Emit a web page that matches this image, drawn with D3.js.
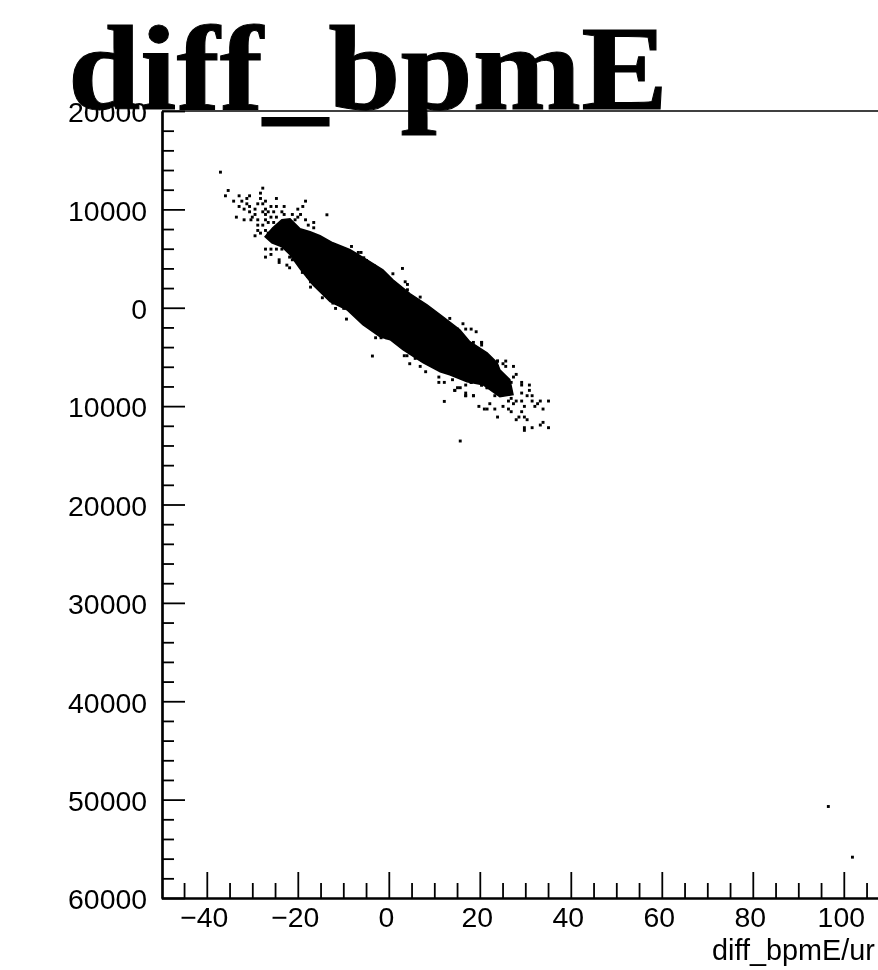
<!DOCTYPE html>
<html>
<head>
<meta charset="utf-8">
<script src="https://cdnjs.cloudflare.com/ajax/libs/d3/7.8.5/d3.min.js"></script>
<style>
html,body{margin:0;padding:0;background:#fff;overflow:hidden}
svg{display:block;filter:blur(0.5px)}
text{fill:#000}
</style>
</head>
<body>
<script>
const chartTitle = "diff_bpmE";
const xAxisTitle = "diff_bpmE/ur";
const xTickValues = [-40,-20,0,20,40,60,80,100];
const xTickLabels = ["\u221240","\u221220","0","20","40","60","80","100"];
const xMinorValues = [-45,-35,-30,-25,-15,-10,-5,5,10,15,25,30,35,45,50,55,65,70,75,85,90,95,105];
const yTickValues = [20000,10000,0,-10000,-20000,-30000,-40000,-50000,-60000];
const yTickLabels = ["20000","10000","0","10000","20000","30000","40000","50000","60000"];
const yMinorValues = [18000,16000,14000,12000,8000,6000,4000,2000,-2000,-4000,-6000,-8000,-12000,-14000,-16000,-18000,-22000,-24000,-26000,-28000,-32000,-34000,-36000,-38000,-42000,-44000,-46000,-48000,-52000,-54000,-56000,-58000];

// outline of the solid, saturated core of the scatter
const coreX = [-27.2,-25.5,-23.5,-21.7,-19.5,-17.3,-15.1,-12.3,-8.5,-4.8,-1.3,0.9,4.7,8.4,11.9,15.6,17.8,21.6,23.8,24.4,26.6,27.3,24.4,20.7,17.2,13.4,11.3,7.5,3.1,0.3,-1.9,-5.7,-9.2,-12.9,-16.7,-19.5,-21.7,-23.5,-25.7];
const coreY = [7214,8128,8941,9042,8026,7722,7315,6604,5893,4877,3861,2845,1422,305,-914,-2235,-3454,-4572,-5588,-6299,-7315,-8839,-9042,-7823,-7518,-6807,-6502,-5588,-4267,-3251,-2946,-1727,-203,610,2337,3962,5385,6198,6604];

// individually visible events outside the core
const pointsUpper = [[-37.0,13784],[-35.3,11921],[-35.9,11379],[-27.7,12158],[-28.2,11650],[-28.2,11108],[-32.9,11379],[-30.6,11379],[-31.2,11108],[-34.1,10837],[-32.3,10837],[-31.2,10566],[-32.9,10295],[-30.6,10295],[-31.8,10024],[-29.4,10024],[-28.8,10566],[-27.7,10566],[-27.1,10837],[-24.7,11108],[-24.7,10295],[-23.0,10295],[-18.3,10837],[-18.9,10295],[-20.0,10024],[-30.6,9753],[-29.4,9482],[-33.5,9211],[-31.8,8940],[-30.3,8940],[-30.0,9211],[-28.8,8940],[-27.7,9753],[-27.1,9482],[-26.5,9753],[-25.9,10295],[-27.1,10024],[-25.3,9753],[-24.7,9211],[-23.5,9753],[-23.0,9482],[-21.2,9482],[-20.0,9211],[-19.4,9482],[-20.6,8940],[-28.8,8398],[-27.7,8398],[-28.8,7857],[-28.2,7586],[-29.4,7315],[-27.1,7857],[-26.5,7586],[-27.1,8940],[-26.5,8669],[-25.9,9211],[-25.3,8669],[-18.3,8940],[-16.5,8669],[-17.7,8398],[-16.5,8128],[-27.1,5960],[-25.9,5960],[-24.7,5960],[-23.5,5960],[-25.9,5418],[-27.1,5147],[-24.1,4876],[-24.1,4605],[-21.8,5147],[-21.2,4876],[-22.4,4334],[-21.8,4063],[-13.6,9449]];
const pointsMiddle = [[-9.6,5622],[-8.2,6231],[-6.7,5622],[-6.1,5622],[-5.5,5080],[-4.9,4809],[-4.4,4538],[-3.2,4267],[3.0,3996],[0.9,3454],[3.6,2641],[4.1,2370],[4.1,1828],[-19.0,3590],[-18.4,3590],[-17.8,3183],[-17.2,2641],[-17.2,2099],[-16.1,2912],[-14.6,1828],[-14.6,1015],[-12.3,474],[-11.7,-68],[-10.5,745],[-9.9,474],[-9.9,-68],[-9.3,-1152],[-8.2,-339],[-5.2,-1694],[-2.9,-3049],[-1.7,-3049],[-0.5,-3049],[-3.6,-4907],[6.9,1084],[13.4,-1084],[16.3,-1626],[15.1,-2168],[18.1,-2168],[19.2,-2439],[16.9,-2168],[20.4,-3522],[22.2,-5148],[23.9,-5419],[23.9,-5961],[3.4,-4877],[4.0,-4877],[5.2,-4606],[5.8,-5148],[4.6,-5690],[6.9,-5961],[8.1,-6503],[11.0,-7045],[11.0,-7587],[12.2,-7587],[14.5,-8400],[15.7,-8129],[16.9,-8671],[18.1,-7587],[20.4,-7858],[21.6,-8129],[22.7,-8129],[16.9,-8942],[18.6,-8942],[12.2,-9520]];
const pointsLower = [[18.6,-3522],[20.4,-3522],[20.4,-3793],[22.2,-5148],[23.9,-5419],[25.7,-5419],[25.1,-5690],[25.7,-5961],[27.4,-5961],[28.0,-6773],[27.4,-7044],[26.9,-7586],[29.2,-7586],[29.2,-7857],[30.9,-7857],[30.9,-8399],[31.5,-8941],[29.2,-8670],[30.4,-8941],[28.0,-9483],[29.2,-9483],[31.5,-9483],[33.3,-9483],[35.1,-9483],[32.7,-9754],[32.1,-10025],[29.8,-10025],[33.9,-10296],[29.2,-10567],[28.6,-11109],[28.0,-11380],[29.8,-11109],[30.4,-11380],[29.8,-12192],[29.8,-12463],[31.5,-12192],[33.9,-11651],[33.3,-11922],[35.1,-12192],[23.9,-11109],[19.8,-10025],[21.0,-10296],[21.6,-10296],[22.2,-9754],[23.3,-10296],[25.1,-10025],[26.3,-10296],[26.9,-10567],[26.3,-9483],[26.9,-9212],[27.4,-9754],[14.5,-8399],[15.1,-8128],[16.9,-8941],[18.6,-8941],[16.9,-7857],[18.1,-7586],[20.4,-7857],[21.6,-8128],[22.8,-8128],[23.3,-8941],[23.9,-7586],[15.7,-13547],[14.0,-7315]];
const pointsFar = [[96.6,-50698],[101.9,-55850]];

const width = 878, height = 970;
const axisLeftPx = 162, axisTopPx = 111, axisBottomPx = 898;
const x = d3.scaleLinear().domain([-50, 108]).range([161.3, 880.2]);
const y = d3.scaleLinear().domain([20000, -60000]).range([axisTopPx, axisBottomPx]);

const svg = d3.select("body").append("svg").attr("width", width).attr("height", height);
const fontTicks = "'Liberation Sans', Arial, sans-serif";

// scatter
svg.append("path")
  .attr("d", d3.line().x(d => x(d[0])).y(d => y(d[1])).curve(d3.curveLinearClosed)(d3.zip(coreX, coreY)))
  .attr("fill", "#000").attr("stroke", "#000").attr("stroke-width", 1.5);
const dot = 2.9;
svg.append("g").selectAll("rect")
  .data(pointsUpper.concat(pointsMiddle, pointsLower, pointsFar))
  .join("rect")
  .attr("x", d => x(d[0]) - dot / 2)
  .attr("y", d => y(d[1]) - dot / 2)
  .attr("width", dot).attr("height", dot)
  .attr("fill", "#000");

// frame top
svg.append("line").attr("x1", axisLeftPx).attr("x2", width).attr("y1", axisTopPx).attr("y2", axisTopPx)
  .attr("stroke", "#000").attr("stroke-width", 1.6);

// y axis
const yLabelMap = new Map(yTickValues.map((v, i) => [v, yTickLabels[i]]));
const gy = svg.append("g").attr("transform", `translate(${axisLeftPx},0)`);
gy.call(d3.axisLeft(y).tickValues(yMinorValues).tickSizeInner(-12).tickSizeOuter(0).tickFormat(""));
const gyMajor = svg.append("g").attr("transform", `translate(${axisLeftPx},0)`);
gyMajor.call(d3.axisLeft(y).tickValues(yTickValues).tickSizeInner(-23).tickSizeOuter(0).tickPadding(15)
  .tickFormat(v => yLabelMap.get(v)));
gyMajor.selectAll("text").attr("font-family", fontTicks).attr("font-size", 28.4).attr("dy", "0.38em").attr("fill", "#000");

// x axis
const xLabelMap = new Map(xTickValues.map((v, i) => [v, xTickLabels[i]]));
const gx = svg.append("g").attr("transform", `translate(0,${axisBottomPx})`);
gx.call(d3.axisBottom(x).tickValues(xMinorValues).tickSizeInner(-15).tickSizeOuter(0).tickFormat(""));
const gxMajor = svg.append("g").attr("transform", `translate(0,${axisBottomPx})`);
gxMajor.call(d3.axisBottom(x).tickValues(xTickValues).tickSizeInner(-26).tickSizeOuter(0).tickPadding(9)
  .tickFormat(v => xLabelMap.get(v)));
gxMajor.selectAll("text").attr("font-family", fontTicks).attr("font-size", 28.4).attr("dx", -3).attr("fill", "#000");

svg.selectAll(".domain").attr("stroke", "#000").attr("stroke-width", 2.2);
svg.selectAll(".tick line").attr("stroke", "#000").attr("stroke-width", 1.8);

// x axis title
svg.append("text").attr("x", 712).attr("y", 960)
  .attr("font-family", fontTicks).attr("font-size", 28.8).text(xAxisTitle);

// title
svg.append("text").attr("transform", "translate(68,109) scale(1.075,1)")
  .attr("font-family", "'Liberation Serif', 'Times New Roman', serif")
  .attr("font-weight", "bold").attr("font-size", 121)
  .attr("stroke", "#000").attr("stroke-width", 1).text(chartTitle);
</script>
</body>
</html>
